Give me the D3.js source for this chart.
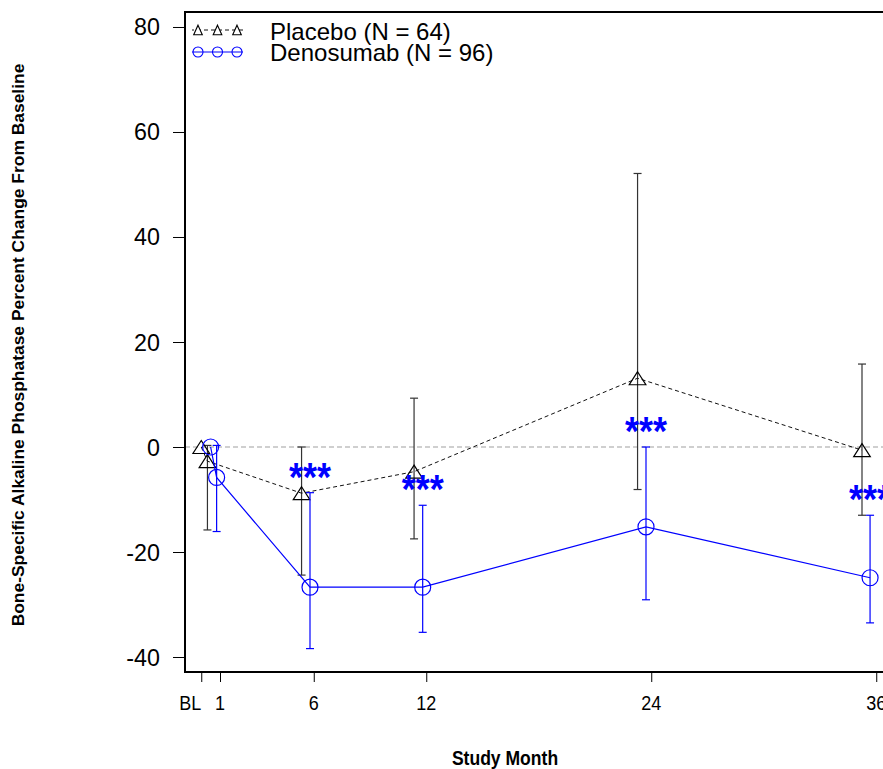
<!DOCTYPE html>
<html>
<head>
<meta charset="utf-8">
<script src="https://cdn.jsdelivr.net/npm/d3@7"></script>
<style>
  html, body { margin: 0; padding: 0; background: #fff; }
  svg { display: block; }
  text { font-family: "Liberation Sans", Arial, Helvetica, sans-serif; }
</style>
</head>
<body>
<svg id="chart" width="883" height="769"></svg>
<script>
// ---- data ----
const tickMonths = [0, 1, 6, 12, 24, 36];
const tickLabels = ["BL", "1", "6", "12", "24", "36"];
const yTicks = [-40, -20, 0, 20, 40, 60, 80];

const placeboX = [0.0, 0.33, 5.35, 11.35, 23.27, 35.24];
const placeboMean = [0, -2.7, -8.8, -4.7, 13.1, -0.6];
const placeboLower = [null, -15.8, -24.4, -17.5, -8.1, -13.0];
const placeboUpper = [null, 0.3, 0.0, 9.3, 52.1, 15.8];

const denosX = [0.5, 0.82, 5.8, 11.81, 23.72, 35.67];
const denosMean = [0, -5.8, -26.7, -26.7, -15.2, -24.9];
const denosLower = [null, -16.1, -38.4, -35.3, -29.1, -33.5];
const denosUpper = [null, 0.3, -8.7, -11.1, 0.0, -13.0];
const denosSig = [null, null, "***", "***", "***", "***"];

const legendLabels = ["Placebo (N = 64)", "Denosumab (N = 96)"];
const xTitle = "Study Month";
const yTitle = "Bone-Specific Alkaline Phosphatase Percent Change From Baseline";

// ---- layout ----
const L = 185, R = 900, T = 12, B = 672;
const svg = d3.select("#chart");
const x = d3.scaleLinear().domain([-0.8667, 37.2667]).range([L, R]);
const y = d3.scaleLinear().domain([-42.857, 82.857]).range([B, T]);
const BLUE = "#0000ff";

function label(g, txt, px, py, size, anchor, opts = {}) {
  const sx = opts.sx == null ? 1 : opts.sx;
  return g.append("text")
    .attr("transform", `translate(${px},${py}) ${opts.rot ? "rotate(-90) " : ""}scale(${sx},1)`)
    .attr("text-anchor", anchor)
    .attr("font-size", size)
    .attr("font-weight", opts.bold ? "bold" : "normal")
    .attr("fill", opts.fill || "#000")
    .text(txt);
}

// zero reference line
svg.append("line")
  .attr("x1", L).attr("x2", R)
  .attr("y1", y(0)).attr("y2", y(0))
  .attr("stroke", "#a0a0a0").attr("stroke-width", 1.2)
  .attr("stroke-dasharray", "5,3");

// y axis (ticks + labels)
const yAxis = svg.append("g").attr("transform", `translate(${L},0)`)
  .call(d3.axisLeft(y).tickValues(yTicks).tickSize(12).tickFormat(""));
yAxis.select(".domain").remove();
yAxis.selectAll(".tick line").attr("stroke", "#000").attr("stroke-width", 1);
yTicks.forEach(v => label(svg, String(v), 160, y(v) + 8.5, 24, "end", { sx: 0.97 }));

// x axis
const xAxis = svg.append("g").attr("transform", `translate(0,${B})`)
  .call(d3.axisBottom(x).tickValues(tickMonths).tickSize(10).tickFormat(""));
xAxis.select(".domain").remove();
xAxis.selectAll(".tick line").attr("stroke", "#000").attr("stroke-width", 1);
tickMonths.forEach((m, i) =>
  label(svg, tickLabels[i], x(m) - (i === 0 ? 11 : 0), 710, 20, "middle", { sx: 0.9 }));

// box
svg.append("rect").attr("x", L).attr("y", T).attr("width", R - L).attr("height", B - T)
  .attr("fill", "none").attr("stroke", "#000").attr("stroke-width", 2);

// titles
label(svg, xTitle, 505, 765, 19.5, "middle", { bold: true, sx: 0.9 });
label(svg, yTitle, 24, 345, 15.7, "middle", { bold: true, rot: true, sx: 1.11 });

// series helpers
const tri = (cx, cy, hw, hh) => `M${cx},${cy - hh}L${cx + hw},${cy + hh}L${cx - hw},${cy + hh}Z`;

function errorBars(xs, lo, hi, color) {
  const g = svg.append("g");
  xs.forEach((m, i) => {
    if (lo[i] == null) return;
    const px = x(m);
    g.append("line").attr("x1", px).attr("x2", px).attr("y1", y(hi[i])).attr("y2", y(lo[i]))
      .attr("stroke", color).attr("stroke-width", 1.2);
    [lo[i], hi[i]].forEach(v => g.append("line")
      .attr("x1", px - 4).attr("x2", px + 4).attr("y1", y(v)).attr("y2", y(v))
      .attr("stroke", color).attr("stroke-width", 1.2));
  });
}

const line = d3.line().x(d => x(d[0])).y(d => y(d[1]));

// placebo
errorBars(placeboX, placeboLower, placeboUpper, "#333");
svg.append("path").datum(placeboX.map((m, i) => [m, placeboMean[i]]))
  .attr("d", line).attr("fill", "none").attr("stroke", "#111")
  .attr("stroke-width", 1).attr("stroke-dasharray", "4,3");
placeboX.forEach((m, i) => svg.append("path")
  .attr("d", tri(x(m), y(placeboMean[i]), 8.3, 6.5))
  .attr("fill", "none").attr("stroke", "#000").attr("stroke-width", 1.2));

// denosumab
errorBars(denosX, denosLower, denosUpper, BLUE);
svg.append("path").datum(denosX.map((m, i) => [m, denosMean[i]]))
  .attr("d", line).attr("fill", "none").attr("stroke", BLUE).attr("stroke-width", 1.2);
denosX.forEach((m, i) => svg.append("ellipse")
  .attr("cx", x(m)).attr("cy", y(denosMean[i])).attr("rx", 8).attr("ry", 8)
  .attr("fill", "none").attr("stroke", BLUE).attr("stroke-width", 1.2));

// significance stars
denosX.forEach((m, i) => {
  if (!denosSig[i]) return;
  label(svg, denosSig[i], x(m), y(denosUpper[i]) - 2, 40, "middle", { bold: true, fill: BLUE, sx: 0.9 });
});

// legend
const lg = svg.append("g");
const legX = [198, 217.5, 237];
lg.append("line").attr("x1", 192).attr("x2", 243).attr("y1", 30).attr("y2", 30)
  .attr("stroke", "#111").attr("stroke-width", 1).attr("stroke-dasharray", "4,3")
  .attr("stroke-dashoffset", 2);
legX.forEach(px => lg.append("path").attr("d", tri(px, 30, 4.3, 4.8))
  .attr("fill", "#fff").attr("stroke", "#000").attr("stroke-width", 1.1));
lg.append("line").attr("x1", 192).attr("x2", 243).attr("y1", 52).attr("y2", 52)
  .attr("stroke", BLUE).attr("stroke-width", 1);
legX.forEach(px => lg.append("ellipse").attr("cx", px).attr("cy", 52).attr("rx", 5).attr("ry", 5)
  .attr("fill", "none").attr("stroke", BLUE).attr("stroke-width", 1.1));
label(lg, legendLabels[0], 270, 40, 24, "start");
label(lg, legendLabels[1], 270, 60.5, 24, "start");
</script>
</body>
</html>
